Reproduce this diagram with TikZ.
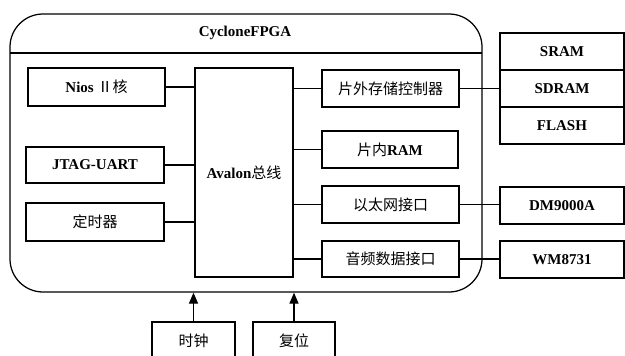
\documentclass[tikz,border=0pt]{standalone}
\usepackage{fontspec}
\setmainfont{Liberation Serif}
\newfontfamily\cjk{Noto Sans CJK SC}
\usetikzlibrary{arrows.meta}
\newcommand{\zh}[1]{{\cjk\mdseries\fontsize{15}{17}\selectfont #1}}
\begin{document}
\begin{tikzpicture}[x=1pt,y=-1pt,line width=1.25pt,
  box/.style={draw,inner sep=0pt,font=\bfseries\fontsize{15}{17}\selectfont},
  wire/.style={line width=1.25pt},
  arr/.style={line width=1.25pt,-{Triangle[length=11pt,width=9pt]}}]
\clip (0,0) rectangle (625,356);
% FPGA outline
\node[draw,rounded corners=33pt,minimum width=472pt,minimum height=278pt,inner sep=0pt] (fpga) at (246,153) {};
\coordinate (tl) at (10,53);
\coordinate (tr) at (482,53);
\draw[wire] (tl) -- (tr);
\node[font=\bfseries\fontsize{15}{17}\selectfont] (title) at (245,33) {CycloneFPGA};
% left modules
\node[box,minimum width=137pt,minimum height=38pt] (nios) at (96.5,87) {Nios \zh{Ⅱ核}};
\node[box,minimum width=138pt,minimum height=36pt] (jtag) at (95,165) {JTAG-UART};
\node[box,minimum width=138pt,minimum height=38pt] (timer) at (95,222) {\zh{定时器}};
% bus
\node[box,minimum width=98pt,minimum height=209pt] (bus) at (244,172.5) {Avalon\zh{总线}};
% right modules
\node[box,minimum width=137pt,minimum height=37pt] (ext) at (390.5,88.5) {\zh{片外存储控制器}};
\node[box,minimum width=136pt,minimum height=37pt] (ram) at (390,149.5) {\zh{片内}RAM};
\node[box,minimum width=137pt,minimum height=37pt] (eth) at (390.5,204.5) {\zh{以太网接口}};
\node[box,minimum width=137pt,minimum height=36pt] (aud) at (390.5,259) {\zh{音频数据接口}};
% external chips
\node[box,minimum width=124pt,minimum height=37pt] (sram) at (562,51.5) {SRAM};
\node[box,minimum width=124pt,minimum height=37pt] (sdram) at (562,88.5) {SDRAM};
\node[box,minimum width=124pt,minimum height=37pt] (flash) at (562,125.5) {FLASH};
\node[box,minimum width=124pt,minimum height=37pt] (dm) at (562,205.5) {DM9000A};
\node[box,minimum width=124pt,minimum height=37pt] (wm) at (562,259.5) {WM8731};
% clock and reset
\node[box,minimum width=83pt,minimum height=38pt] (clk) at (193.5,341) {\zh{时钟}};
\node[box,minimum width=82pt,minimum height=38pt] (rst) at (294,341) {\zh{复位}};
% connectors
\draw[wire] (nios.east) -- (nios.east -| bus.west);
\draw[wire] (jtag.east) -- (jtag.east -| bus.west);
\draw[wire] (timer.east) -- (timer.east -| bus.west);
\draw[wire] (ext.west -| bus.east) -- (ext.west);
\draw[wire] (ram.west -| bus.east) -- (ram.west);
\draw[wire] (eth.west -| bus.east) -- (eth.west);
\draw[wire] (aud.west -| bus.east) -- (aud.west);
\draw[wire] (ext.east) -- (ext.east -| sdram.west);
\draw[wire] (eth.east) -- (eth.east -| dm.west);
\draw[wire] (aud.east) -- (aud.east -| wm.west);
\draw[arr] (clk.north) -- (clk.north |- fpga.south);
\draw[arr] (rst.north) -- (rst.north |- fpga.south);
\end{tikzpicture}
\end{document}
